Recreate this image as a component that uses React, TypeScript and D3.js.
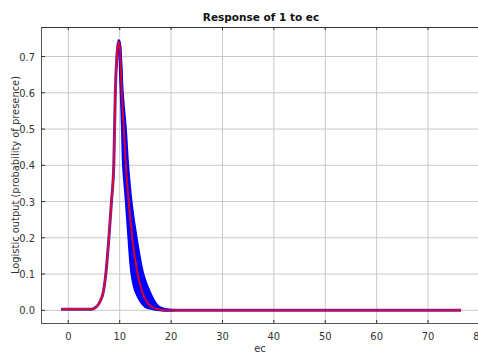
import * as d3 from 'd3';
import React, { useEffect, useRef } from 'react';

// mean response curve (red)
const meanEc = [-1.4, 4.5, 5.5, 6.2, 6.8, 7.3, 7.9, 8.4, 8.85, 9.0, 9.15, 9.45, 9.8, 10.0, 10.4, 10.8, 11.2, 11.75, 12.45, 13.5, 14.4, 15.2, 16.2, 17.2, 18.4, 20, 76.4];
const meanValue = [0.003, 0.003, 0.01, 0.025, 0.05, 0.1, 0.2, 0.3, 0.4, 0.5, 0.6, 0.7, 0.74, 0.73, 0.6, 0.5, 0.4, 0.3, 0.2, 0.1, 0.05, 0.025, 0.01, 0.004, 0.001, 0, 0];

// replicate spread (blue), right edge and left edge of the band
const bandOuterEc = [9.8, 10.0, 10.6, 11.2, 11.65, 12.3, 13.3, 14.6, 15.9, 17.5, 19.5, 21];
const bandOuterValue = [0.745, 0.74, 0.6, 0.5, 0.4, 0.3, 0.2, 0.1, 0.05, 0.012, 0.002, 0];
const bandInnerEc = [9.9, 10.2, 10.45, 10.65, 11.2, 11.7, 12.3, 13.1, 14.9, 16.5, 18];
const bandInnerValue = [0.72, 0.6, 0.5, 0.4, 0.3, 0.2, 0.1, 0.05, 0.01, 0.003, 0];

const xTicks = [0, 10, 20, 30, 40, 50, 60, 70, 80];
const yTicks = [0, 0.1, 0.2, 0.3, 0.4, 0.5, 0.6, 0.7];

const width = 478;
const height = 354;
const margin = { top: 27, left: 41, bottom: 31, right: -12 };
const tickFont = "'DejaVu Sans Condensed', 'Liberation Sans Narrow', 'Liberation Sans', sans-serif";

const App = () => {
    const ref = useRef<SVGSVGElement>(null);

    useEffect(() => {
        const svg = d3.select(ref.current);
        svg.selectAll('*').remove();

        const x = d3.scaleLinear().domain([-5.31, 82.05]).range([margin.left, width - margin.right]);
        const y = d3.scaleLinear().domain([-0.035, 0.7815]).range([height - margin.bottom, margin.top]);
        const top = margin.top, bottom = height - margin.bottom, left = margin.left, right = width - margin.right;

        const g = svg.append('g');

        // grid
        g.selectAll('.gx').data(xTicks).enter().append('line')
            .attr('x1', d => x(d)).attr('x2', d => x(d))
            .attr('y1', top).attr('y2', bottom)
            .attr('stroke', '#c8c8c8').attr('stroke-width', 1);
        g.selectAll('.gy').data(yTicks).enter().append('line')
            .attr('x1', left).attr('x2', right)
            .attr('y1', d => y(d)).attr('y2', d => y(d))
            .attr('stroke', '#c8c8c8').attr('stroke-width', 1);

        const line = d3.line<[number, number]>().x(d => x(d[0])).y(d => y(d[1])).curve(d3.curveMonotoneX);
        const curveLine = d3.line<[number, number]>().x(d => x(d[0])).y(d => y(d[1])).curve(d3.curveCatmullRom.alpha(0.5));

        // blue band
        const outer: [number, number][] = bandOuterEc.map((e, i) => [e, bandOuterValue[i]]);
        const inner: [number, number][] = bandInnerEc.map((e, i) => [e, bandInnerValue[i]]);
        g.append('path')
            .attr('d', curveLine(outer.concat(inner.slice().reverse())) + 'Z')
            .attr('fill', '#0000ff').attr('stroke', '#0000ff').attr('stroke-width', 2)
            .attr('stroke-linejoin', 'round');

        const mean: [number, number][] = meanEc.map((e, i) => [e, meanValue[i]]);
        g.append('path')
            .attr('d', line(mean))
            .attr('fill', 'none').attr('stroke', '#0000ff').attr('stroke-width', 3)
            .attr('stroke-opacity', 0.8);
        g.append('path')
            .attr('d', line(mean))
            .attr('fill', 'none').attr('stroke', '#ff0000').attr('stroke-width', 2)
            .attr('stroke-opacity', 0.85);

        // frame
        g.append('line').attr('x1', left).attr('x2', right).attr('y1', top + 0.5).attr('y2', top + 0.5)
            .attr('stroke', '#333').attr('stroke-width', 1);
        g.append('line').attr('x1', left).attr('x2', right).attr('y1', bottom + 0.5).attr('y2', bottom + 0.5)
            .attr('stroke', '#555').attr('stroke-width', 1);
        g.append('line').attr('x1', left + 0.5).attr('x2', left + 0.5).attr('y1', top).attr('y2', bottom)
            .attr('stroke', '#555').attr('stroke-width', 1);

        // ticks
        g.selectAll('.tb').data(xTicks).enter().append('line')
            .attr('x1', d => x(d)).attr('x2', d => x(d))
            .attr('y1', bottom).attr('y2', bottom - 3).attr('stroke', '#333');
        g.selectAll('.tt').data(xTicks).enter().append('line')
            .attr('x1', d => x(d)).attr('x2', d => x(d))
            .attr('y1', top).attr('y2', top + 3).attr('stroke', '#333');
        g.selectAll('.tl').data(yTicks).enter().append('line')
            .attr('x1', left).attr('x2', left + 4)
            .attr('y1', d => y(d)).attr('y2', d => y(d)).attr('stroke', '#333');

        // tick labels
        g.selectAll('.lx').data(xTicks).enter().append('text')
            .attr('x', d => x(d)).attr('y', bottom + 17)
            .attr('text-anchor', 'middle')
            .attr('font-family', tickFont).attr('font-size', 11).attr('fill', '#333')
            .text(d => d);
        g.selectAll('.ly').data(yTicks).enter().append('text')
            .attr('x', left - 6).attr('y', d => y(d) + 4)
            .attr('text-anchor', 'end')
            .attr('font-family', tickFont).attr('font-size', 11).attr('fill', '#333')
            .text(d => d3.format('.1f')(d));

        // titles
        svg.append('text')
            .attr('x', 261).attr('y', 21)
            .attr('text-anchor', 'middle')
            .attr('font-family', "'DejaVu Sans', sans-serif").attr('font-weight', 'bold').attr('font-size', 10.5)
            .attr('fill', '#111')
            .text('Response of 1 to ec');
        svg.append('text')
            .attr('transform', 'translate(15,' + ((top + bottom) / 2) + ') rotate(-90)')
            .attr('text-anchor', 'middle')
            .attr('dominant-baseline', 'central')
            .attr('font-family', tickFont).attr('font-size', 11).attr('fill', '#333')
            .text('Logistic output (probability of presence)');
        svg.append('text')
            .attr('x', 260).attr('y', 352)
            .attr('text-anchor', 'middle')
            .attr('font-family', tickFont).attr('font-size', 11).attr('fill', '#333')
            .text('ec');
    }, []);

    return (
        <div style={{ position: 'fixed', left: 0, top: 0 }}>
            <svg ref={ref} width={width} height={height} style={{ display: 'block', background: '#fff' }}></svg>
        </div>
    );
};

export default App;
